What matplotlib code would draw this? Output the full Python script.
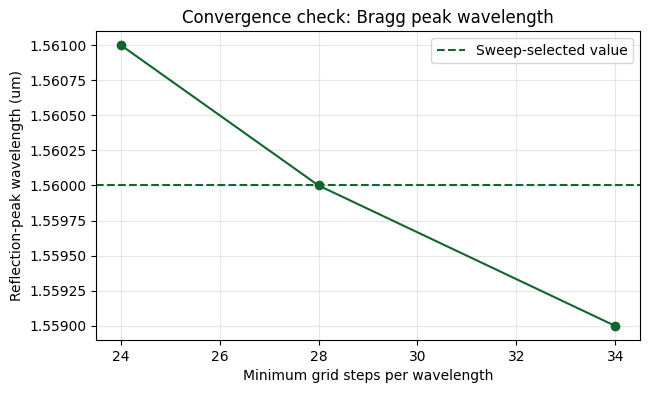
import matplotlib
matplotlib.use("Agg")
import matplotlib.pyplot as plt

# data
grid_steps = [24, 28, 34]
peak_wavelength = [1.5610, 1.5600, 1.5590]
selected_value = 1.5600

color = "#13652f"

fig, ax = plt.subplots(figsize=(6.49, 3.93), dpi=100)

ax.plot(grid_steps, peak_wavelength, marker="o", color=color)
ax.axhline(selected_value, color=color, linestyle="--", label="Sweep-selected value")

ax.set_xlabel("Minimum grid steps per wavelength")
ax.set_ylabel("Reflection-peak wavelength (um)")
ax.set_title("Convergence check: Bragg peak wavelength")
ax.ticklabel_format(axis="y", useOffset=False)
ax.grid(alpha=0.3)
ax.legend(loc="upper right")

fig.subplots_adjust(left=0.148, right=0.986, top=0.921, bottom=0.135)
plt.savefig("out.png", dpi=100)
